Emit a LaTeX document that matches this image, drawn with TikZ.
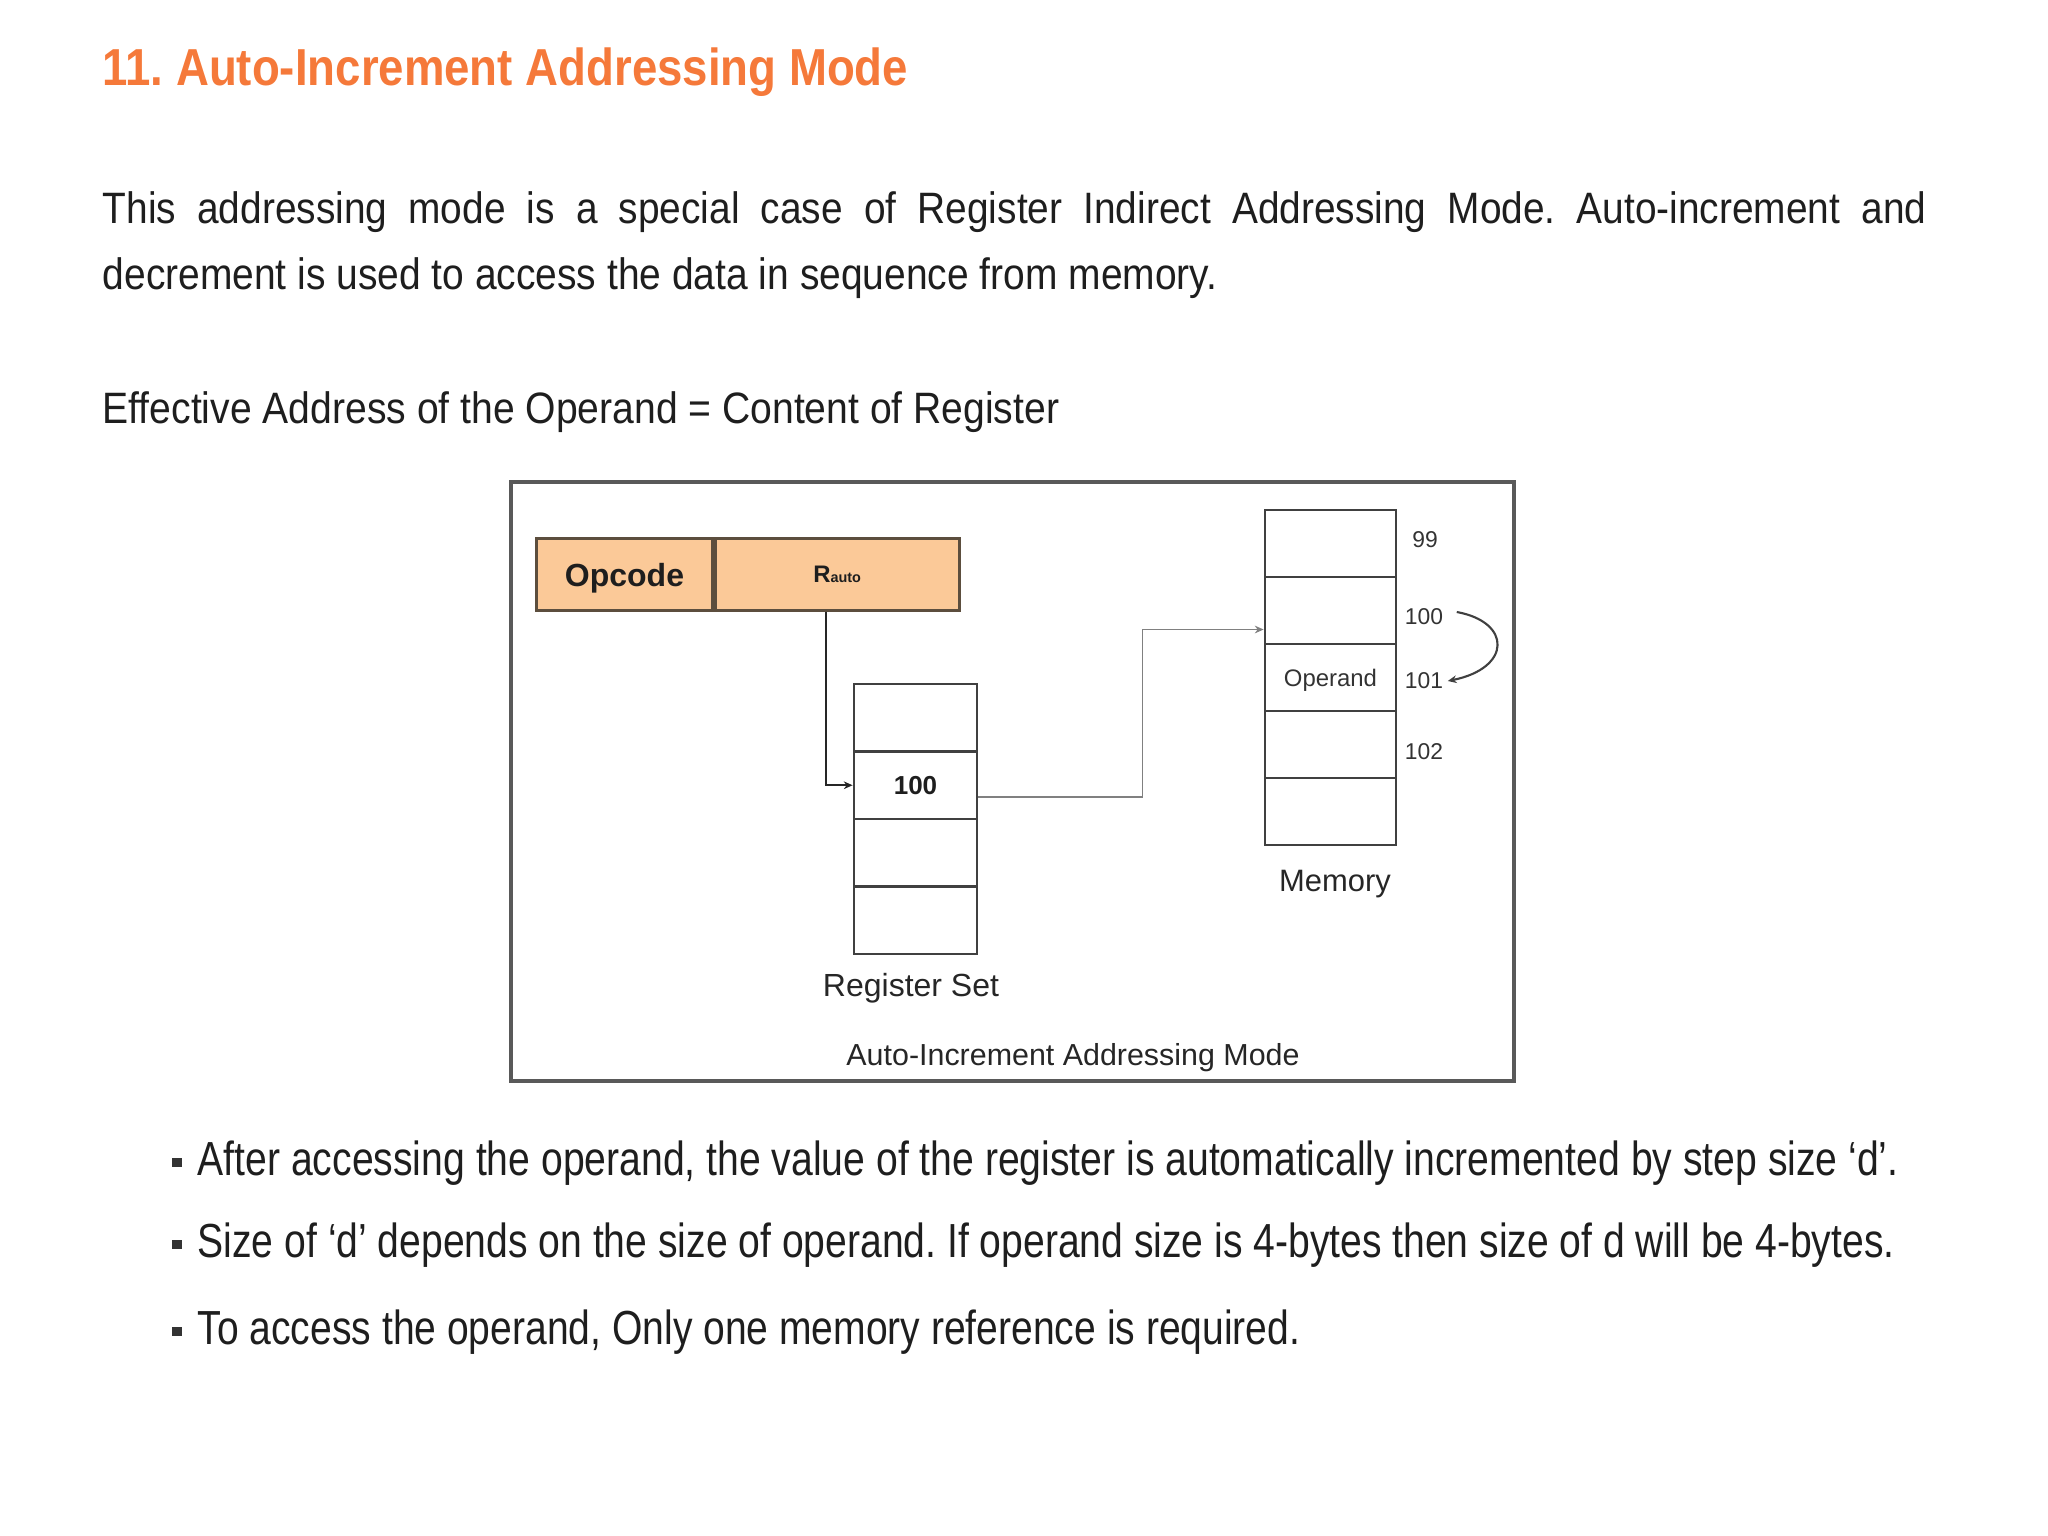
\documentclass[tikz,border=0pt]{standalone}
\usepackage{fontspec}
\setmainfont{Liberation Sans}
\usetikzlibrary{arrows.meta,positioning}
\frenchspacing

\definecolor{titleorange}{RGB}{245,121,58}
\definecolor{opfill}{RGB}{251,201,152}
\definecolor{opedge}{RGB}{92,78,62}
\definecolor{bodytext}{RGB}{30,30,30}
\newcommand{\fitline}[2]{\resizebox{#1}{\height}{#2}}

\begin{document}
\begin{tikzpicture}[x=0.01cm, y=-0.01cm,
    every node/.style={inner sep=0pt, text=bodytext},
    para/.style={font=\fontsize{12.5}{15}\selectfont, anchor=base west},
    point/.style={font=\fontsize{13.6}{16}\selectfont, anchor=base west},
    cell/.style={draw=black!75, line width=0.8pt},
    field/.style={draw=opedge, fill=opfill, line width=0.85pt, minimum height=0.71cm, text depth=0pt},
    addr/.style={font=\fontsize{6.5}{8}\selectfont, text=black!80},
    caption/.style={font=\fontsize{8.8}{10}\selectfont, text=black!85, anchor=base},
    bulletsq/.style={fill=black!80, minimum size=0.09cm},
    link/.style={-{Stealth[length=2.5pt,width=2.2pt]}}]

\useasboundingbox (0,0) rectangle (2048,1536);

% heading and text above the figure
\node[anchor=base west, text=titleorange, font=\bfseries\fontsize{14.8}{18}\selectfont] (title) at (102,85)
  {\fitline{8.05cm}{11. Auto-Increment Addressing Mode}};
\node[para] (line1) at (102,223)
  {\scalebox{0.884}[1]{\hbox to 20.62cm{This addressing mode is a special case of Register Indirect Addressing Mode. Auto-increment and}}};
\node[para] (line2) at (102,289)
  {\fitline{11.14cm}{decrement is used to access the data in sequence from memory.}};
\node[para] (ea) at (102,423)
  {\fitline{9.56cm}{Effective Address of the Operand = Content of Register}};

% figure frame
\draw[draw=black!65, line width=1.1pt] (511,482) rectangle (1514,1081);

% instruction
\node[field, minimum width=1.75cm, font=\bfseries\fontsize{9.1}{11}\selectfont] (opcode) at (624.5,574.5) {Opcode};
\node[field, minimum width=2.44cm, right=0pt of opcode, font=\bfseries\fontsize{6.8}{8}\selectfont] (rauto)
  {R{\fontsize{4.1}{5}\selectfont auto}};

% register set and memory
\foreach \i in {1,...,4}
  \node[cell, minimum width=1.23cm, minimum height=0.675cm] (reg\i) at (915.5,{684+67.5*\i-33.75}) {};
\foreach \i in {1,...,5}
  \node[cell, minimum width=1.31cm, minimum height=0.67cm] (mem\i) at (1330.5,{510+67*\i-33.5}) {};
\node[font=\bfseries\fontsize{7.4}{9}\selectfont] (regval) at (reg2) {100};
\node[font=\fontsize{6.8}{8}\selectfont, text=black!80] (opnd) at ([yshift=-0.03cm]mem3.center) {Operand};

\node[addr] (a99) at (1425,540) {99};
\node[addr] (a100) at (1424,617) {100};
\node[addr] (a101) at (1424,681) {101};
\node[addr] (a102) at (1424,752) {102};

\node[caption, font=\fontsize{9.1}{11}\selectfont] (regcap) at (911,996) {Register Set};
\node[caption] (memcap) at (1335,891) {Memory};
\node[caption, font=\fontsize{8.65}{10}\selectfont] (figcap) at (1073,1065) {Auto-Increment Addressing Mode};

% connectors
\draw[link, black!85, line width=0.6pt] ([xshift=-0.11cm]rauto.south) |- (reg2.west);
\draw[link, black!50, line width=0.5pt] ([yshift=-0.12cm]reg2.east) -- ++(164,0) |- ([yshift=-0.19cm]mem2.west);
\draw[link, black!75, line width=0.6pt] ([xshift=0.13cm,yshift=0.05cm]a100.east)
  .. controls +(55,10) and +(64,-13) .. ([xshift=0.04cm]a101.east);

% points below the figure
\node[bulletsq] (b1) at (177,1162) {};
\node[point] (p1) at (197,1175)
  {\fitline{17.0cm}{After accessing the operand, the value of the register is automatically incremented by step size ‘d’.}};
\node[bulletsq] (b2) at (177,1244) {};
\node[point] (p2) at (197,1257)
  {\fitline{16.96cm}{Size of ‘d’ depends on the size of operand. If operand size is 4-bytes then size of d will be 4-bytes.}};
\node[bulletsq] (b3) at (177,1331) {};
\node[point] (p3) at (197,1344)
  {\fitline{11.02cm}{To access the operand, Only one memory reference is required.}};
\end{tikzpicture}
\end{document}
